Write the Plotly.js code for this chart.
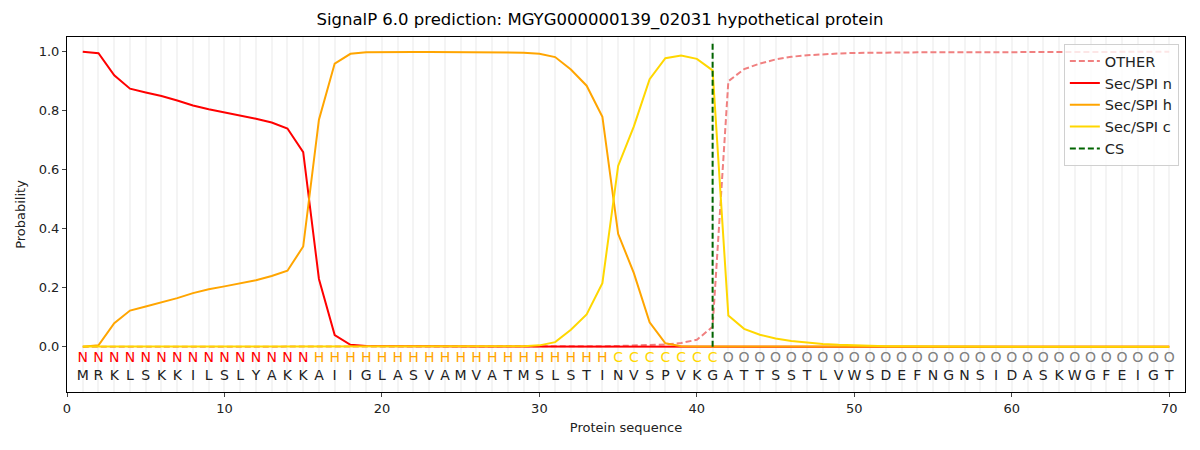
<!DOCTYPE html>
<html>
<head>
<meta charset="utf-8">
<script src="https://cdn.plot.ly/plotly-3.0.1.min.js"></script>
<style>body{margin:0;background:#fff}</style>
</head>
<body>
<div id="graph" style="width:1200px;height:450px"></div>
<script>
var sequence = "MRKLSKKILSLYAKKAIIGLASVAMVATMSLSTINVSPVKGATTSSTLVWSDEFNGNSIDASKWGFEIGT".split("");
var regions = "NNNNNNNNNNNNNNNHHHHHHHHHHHHHHHHHHHCCCCCCCOOOOOOOOOOOOOOOOOOOOOOOOOOOOO".split("");
var positions = sequence.map(function (s, i) { return i + 1; });

var other = [0,0,0,0,0,0,0,0,0,0, 0,0,0,0,0,0,0,0,0,0, 0,0,0,0,0,0,0,0,0,0,
	0.001,0.001,0.002,0.002,0.003,0.004,0.005,0.008,0.013,0.024,
	0.068,0.9,0.941,0.96,0.974,0.983,0.988,0.992,0.994,0.996,
	0.997,0.998,0.998,0.998,0.998,0.998,0.999,0.999,0.999,0.999,
	0.999,1,1,1,1,1,1,1,1,1];
var secN = [1.0,0.995,0.92,0.875,0.862,0.85,0.835,0.818,0.805,0.795,
	0.785,0.773,0.76,0.74,0.66,0.23,0.04,0.007,0.003,0.002,
	0.002,0.002,0.002,0.001,0.001,0.001,0.001,0.001,0.001,0.001,
	0.001,0.001,0.001,0.001,0.001,0.001,0.001,0,0,0,
	0,0,0,0,0,0,0,0,0,0, 0,0,0,0,0,0,0,0,0,0, 0,0,0,0,0,0,0,0,0,0];
var secH = [0,0.005,0.08,0.123,0.137,0.15,0.165,0.182,0.195,0.205,
	0.215,0.226,0.24,0.258,0.34,0.77,0.96,0.993,0.998,0.999,
	0.999,0.999,0.999,0.999,0.999,0.999,0.998,0.998,0.997,0.993,
	0.982,0.94,0.885,0.78,0.383,0.25,0.083,0.012,0.002,0.001,
	0.001,0,0,0,0,0,0,0,0,0, 0,0,0,0,0,0,0,0,0,0, 0,0,0,0,0,0,0,0,0,0];
var secC = [0.001,0.001,0.001,0.001,0.001,0.001,0.001,0.001,0.001,0.001,
	0.001,0.001,0.001,0.001,0.001,0.001,0.001,0.001,0.001,0.001,
	0.001,0.001,0.001,0.001,0.001,0.001,0.001,0.001,0.002,0.005,
	0.016,0.058,0.11,0.216,0.613,0.747,0.907,0.978,0.987,0.976,
	0.937,0.106,0.061,0.041,0.028,0.02,0.014,0.01,0.007,0.005,
	0.003,0.002,0.002,0.001,0.001,0.001,0.001,0.001,0,0,
	0,0,0,0,0,0,0,0,0,0];
var cleavage = [41];

var regionColors = {N: "red", H: "orange", C: "gold", O: "grey"};

var lineFor = function (name, y, color, dash) {
	return {x: positions, y: y, name: name, type: "scatter", mode: "lines",
		line: {color: color, width: 2, dash: dash || "solid"}, hoverinfo: "skip"};
};

var data = [
	lineFor("OTHER", other, "lightcoral", "6px,3px"),
	lineFor("Sec/SPI n", secN, "red"),
	lineFor("Sec/SPI h", secH, "orange"),
	lineFor("Sec/SPI c", secC, "gold"),
	{x: [cleavage[0], cleavage[0]], y: [0, 1.035], name: "CS", type: "scatter", mode: "lines",
		line: {color: "darkgreen", width: 2, dash: "6px,3px"}, hoverinfo: "skip"},
	{x: positions, y: positions.map(function () { return -0.04; }), text: regions,
		type: "scatter", mode: "text", showlegend: false, hoverinfo: "skip",
		textfont: {family: "DejaVu Sans", size: 14, color: regions.map(function (r) { return regionColors[r]; })}},
	{x: positions, y: positions.map(function () { return -0.1; }), text: sequence,
		type: "scatter", mode: "text", showlegend: false, hoverinfo: "skip",
		textfont: {family: "DejaVu Sans", size: 14, color: "#222"}}
];

var layout = {
	width: 1200, height: 450,
	margin: {l: 67, r: 15, t: 37, b: 58},
	paper_bgcolor: "white", plot_bgcolor: "white",
	font: {family: "DejaVu Sans", size: 13, color: "#222"},
	title: {text: "SignalP 6.0 prediction: MGYG000000139_02031 hypothetical protein",
		font: {size: 16.5, color: "#000"}, x: 0.5, xanchor: "center", y: 0.958, yanchor: "middle"},
	xaxis: {range: [0, 71], dtick: 10, tick0: 0, ticks: "outside", ticklen: 4,
		showline: true, mirror: true, linecolor: "black", linewidth: 1,
		showgrid: true, gridcolor: "#f4f4f4", gridwidth: 2, zeroline: false,
		minor: {dtick: 1, tick0: 0, showgrid: true, gridcolor: "#f4f4f4", gridwidth: 2},
		title: {text: "Protein sequence", font: {size: 13}, standoff: 8}},
	yaxis: {range: [-0.153, 1.05], dtick: 0.2, tick0: 0, tickformat: ".1f", ticks: "outside", ticklen: 4,
		showline: true, mirror: true, linecolor: "black", linewidth: 1,
		showgrid: false, zeroline: false,
		title: {text: "Probability", font: {size: 13}, standoff: 10}},
	legend: {x: 0.9945, y: 0.98, xanchor: "right", yanchor: "top",
		bgcolor: "rgba(255,255,255,0.8)", bordercolor: "#d0d0d0", borderwidth: 1,
		font: {size: 14.5}, tracegroupgap: 0, itemwidth: 30},
	showlegend: true
};

Plotly.newPlot("graph", data, layout, {displayModeBar: false, staticPlot: true});
</script>
</body>
</html>
